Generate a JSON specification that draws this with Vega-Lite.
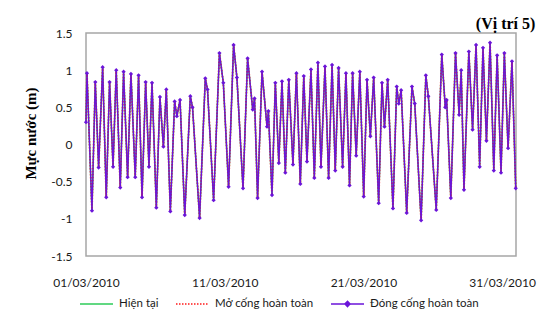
{
  "$schema": "https://vega.github.io/schema/vega-lite/v6.json",
  "width": 430,
  "height": 223,
  "autosize": {"type": "none"},
  "padding": {"left": 86, "top": 33, "right": 26, "bottom": 64},
  "background": "white",
  "title": {"text": "(Vị trí 5)", "anchor": "end", "font": "Liberation Serif", "fontSize": 16, "fontWeight": "bold", "color": "black", "dx": 0, "offset": -5},
  "data": {"values": [
    {"d":0.00,"v":0.30},{"d":0.07,"v":0.96},{"d":0.43,"v":-0.89},{"d":0.67,"v":0.84},{"d":0.91,"v":-0.31},
    {"d":1.20,"v":1.04},{"d":1.46,"v":-0.71},{"d":1.70,"v":0.84},{"d":1.95,"v":-0.30},{"d":2.18,"v":1.00},
    {"d":2.47,"v":-0.58},{"d":2.71,"v":0.98},{"d":3.00,"v":-0.44},{"d":3.24,"v":0.95},{"d":3.55,"v":-0.44},
    {"d":3.79,"v":0.93},{"d":4.04,"v":-0.71},{"d":4.30,"v":0.84},{"d":4.54,"v":-0.30},{"d":4.76,"v":0.83},
    {"d":5.07,"v":-0.85},{"d":5.33,"v":0.64},{"d":5.58,"v":-0.03},{"d":5.79,"v":0.74},{"d":6.08,"v":-0.90},
    {"d":6.39,"v":0.58},{"d":6.55,"v":0.38},{"d":6.78,"v":0.60},{"d":7.12,"v":-0.95},{"d":7.52,"v":0.65},
    {"d":7.68,"v":0.50},{"d":8.19,"v":-0.99},{"d":8.60,"v":0.89},{"d":8.76,"v":0.74},{"d":9.20,"v":-0.75},
    {"d":9.62,"v":1.23},{"d":9.90,"v":0.83},{"d":10.28,"v":-0.57},{"d":10.64,"v":1.34},{"d":10.88,"v":0.90},
    {"d":11.32,"v":-0.59},{"d":11.65,"v":1.16},{"d":12.02,"v":0.47},{"d":12.15,"v":0.62},{"d":12.37,"v":-0.72},
    {"d":12.69,"v":0.98},{"d":13.05,"v":0.24},{"d":13.15,"v":0.45},{"d":13.41,"v":-0.68},{"d":13.65,"v":0.83},
    {"d":13.90,"v":-0.25},{"d":14.13,"v":0.85},{"d":14.37,"v":-0.38},{"d":14.62,"v":0.87},{"d":14.92,"v":-0.27},
    {"d":15.17,"v":0.96},{"d":15.45,"v":-0.53},{"d":15.70,"v":0.92},{"d":15.93,"v":-0.23},{"d":16.22,"v":1.01},
    {"d":16.46,"v":-0.45},{"d":16.72,"v":1.10},{"d":16.94,"v":-0.30},{"d":17.23,"v":1.05},{"d":17.49,"v":-0.45},
    {"d":17.74,"v":1.07},{"d":17.97,"v":-0.35},{"d":18.21,"v":1.03},{"d":18.50,"v":-0.30},{"d":18.74,"v":0.96},
    {"d":19.00,"v":-0.55},{"d":19.22,"v":0.96},{"d":19.48,"v":-0.15},{"d":19.74,"v":0.98},{"d":20.02,"v":-0.70},
    {"d":20.26,"v":0.87},{"d":20.50,"v":0.11},{"d":20.74,"v":0.90},{"d":21.10,"v":-0.79},{"d":21.34,"v":0.83},
    {"d":21.52,"v":0.24},{"d":21.75,"v":0.87},{"d":22.13,"v":-0.86},{"d":22.40,"v":0.78},{"d":22.55,"v":0.55},
    {"d":22.72,"v":0.73},{"d":23.12,"v":-0.92},{"d":23.50,"v":0.78},{"d":23.70,"v":0.55},{"d":24.16,"v":-1.02},
    {"d":24.50,"v":0.93},{"d":24.68,"v":0.65},{"d":25.25,"v":-0.88},{"d":25.65,"v":1.21},{"d":25.90,"v":0.50},
    {"d":26.00,"v":0.60},{"d":26.30,"v":-0.72},{"d":26.64,"v":1.23},{"d":26.90,"v":0.40},{"d":27.05,"v":1.00},
    {"d":27.25,"v":-0.61},{"d":27.60,"v":1.25},{"d":27.87,"v":0.20},{"d":28.12,"v":1.34},{"d":28.38,"v":-0.30},
    {"d":28.62,"v":1.30},{"d":28.87,"v":0.05},{"d":29.13,"v":1.37},{"d":29.40,"v":-0.35},{"d":29.64,"v":1.20},
    {"d":29.92,"v":-0.38},{"d":30.16,"v":1.23},{"d":30.43,"v":-0.05},{"d":30.71,"v":1.12},{"d":30.98,"v":-0.59}
  ]},
  "encoding": {
    "x": {"field": "d", "type": "quantitative",
      "scale": {"domain": [0, 31], "nice": false, "zero": false},
      "axis": {"values": [0, 10, 20, 30], "labelExpr": "timeFormat(datetime(2010, 2, 1 + datum.value), '%d/%m/%Y')",
        "title": null, "grid": false, "ticks": false, "domain": false, "labelPadding": 21, "labelFontSize": 12, "labelFlush": false}},
    "y": {"field": "v", "type": "quantitative",
      "scale": {"domain": [-1.5, 1.5], "nice": false, "zero": false},
      "axis": {"values": [-1.5, -1, -0.5, 0, 0.5, 1, 1.5], "labelExpr": "'' + datum.value",
        "title": "Mực nước (m)", "titleFont": "Liberation Serif", "titleFontSize": 15, "titleFontWeight": "bold", "titleColor": "black",
        "titleX": -56, "titleY": 100, "titleAngle": 270, "titleAlign": "center", "titleBaseline": "middle",
        "grid": false, "ticks": false, "domain": false, "labelPadding": 14, "labelFontSize": 12}}
  },
  "layer": [
    {"mark": {"type": "line", "strokeWidth": 1.5},
     "encoding": {"color": {"datum": "Hiện tại", "type": "nominal",
       "scale": {"domain": ["Hiện tại", "Mở cống hoàn toàn", "Đóng cống hoàn toàn"], "range": ["#2ecc5a", "#ff1a1a", "#6b14d9"]},
       "legend": {"orient": "none", "legendX": -7, "legendY": 253, "direction": "horizontal", "title": null,
         "symbolType": "stroke", "symbolSize": 1089, "symbolStrokeWidth": 1.5, "labelFontSize": 11.5, "labelOffset": 5,
         "columnPadding": 14, "padding": 0, "labelColor": "#1a1a1a",
         "encode": {"symbols": {"update": {
           "strokeDash": {"signal": "datum.value === 'Mở cống hoàn toàn' ? [1.5, 1.5] : [1, 0]"},
           "shape": {"signal": "datum.value === 'Đóng cống hoàn toàn' ? 'M-1,0L1,0M0,-0.16L0.16,0L0,0.16L-0.16,0Z' : 'stroke'"},
           "fill": {"signal": "datum.value === 'Đóng cống hoàn toàn' ? '#6b14d9' : 'transparent'"}
         }}}}}}},
    {"mark": {"type": "line", "strokeWidth": 1.8, "strokeDash": [1.5, 1.5]},
     "encoding": {"color": {"datum": "Mở cống hoàn toàn", "type": "nominal"}}},
    {"mark": {"type": "line", "strokeWidth": 1.3},
     "encoding": {"color": {"datum": "Đóng cống hoàn toàn", "type": "nominal"}}},
    {"mark": {"type": "point", "shape": "diamond", "filled": true, "size": 18, "opacity": 1},
     "encoding": {"color": {"datum": "Đóng cống hoàn toàn", "type": "nominal"}}}
  ],
  "config": {
    "font": "Lato",
    "view": {"stroke": "#a6a6a6", "strokeWidth": 1.5},
    "axis": {"labelColor": "#1a1a1a", "labelFont": "Lato"}
  }
}
